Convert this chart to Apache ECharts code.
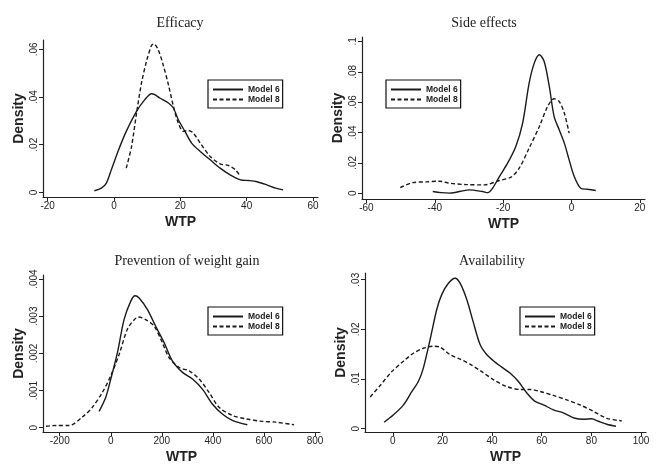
<!DOCTYPE html>
<html>
<head>
<meta charset="utf-8">
<script src="https://cdn.jsdelivr.net/npm/echarts@6/dist/echarts.min.js"></script>
<style>
  html, body { margin: 0; padding: 0; background: #fff; }
  #main { width: 657px; height: 465px; }
</style>
</head>
<body>
<div id="main"></div>
<script>
// kernel density of WTP, four attributes, Model 6 (solid) vs Model 8 (dashed)

const titles = ['Efficacy', 'Side effects', 'Prevention of weight gain', 'Availability'];
const seriesNames = ['Model 6', 'Model 8'];

// [WTP, density]
const efficacyM6 = [[-5.9,0.0007],[-3.8,0.0018],[-2.3,0.0039],[-0.8,0.0095],[1.2,0.0172],[3.7,0.0256],[6.8,0.034],[9.3,0.0389],[11.3,0.0414],[12.3,0.041],[13.8,0.0396],[16.4,0.0375],[17.9,0.0354],[19.4,0.0305],[21.4,0.0256],[23.4,0.0207],[26,0.0172],[29,0.0137],[32,0.0102],[35,0.0074],[38.1,0.0053],[40.6,0.005],[43.1,0.0045],[46.2,0.0031],[48.7,0.0018],[51,0.0011]];
const efficacyM8 = [[3.7,0.0102],[5.3,0.0193],[6.8,0.0333],[8.3,0.0459],[9.8,0.055],[11.3,0.0616],[12,0.0623],[13.3,0.0599],[14.8,0.0536],[16.4,0.0452],[17.9,0.0361],[19.4,0.0291],[20.9,0.0256],[22.4,0.026],[23.9,0.0249],[26,0.0207],[29,0.0151],[32,0.012],[34.5,0.0113],[36.6,0.0095],[38.1,0.0067]];

const sideM6 = [[-40.6,0.0011],[-38.2,0.0004],[-35.7,0.0001],[-29.9,0.0022],[-26,0.0011],[-24.5,0.0004],[-23.1,0.0033],[-21.1,0.011],[-18.7,0.0198],[-16.3,0.0308],[-14.3,0.0462],[-12.4,0.0725],[-10.9,0.0857],[-9.4,0.0912],[-8,0.0868],[-6.5,0.0703],[-5.1,0.0506],[-3.6,0.0418],[-2.1,0.033],[-0.7,0.022],[0.8,0.011],[2.7,0.0033],[4.7,0.0026],[7.1,0.0018]];
const sideM8 = [[-50.1,0.0037],[-46.4,0.007],[-42.5,0.0075],[-38.6,0.0079],[-35.7,0.0066],[-30.9,0.0057],[-25.5,0.0055],[-21.1,0.0084],[-17.7,0.0106],[-15.3,0.0165],[-12.4,0.0297],[-9.4,0.044],[-7,0.0571],[-5.1,0.0622],[-3.6,0.0604],[-2.1,0.0527],[-0.7,0.0396]];

const weightM6 = [[-45.7,0.00044],[-19.6,0.00082],[0,0.00131],[26,0.00202],[52,0.00291],[78,0.0034],[95,0.00355],[111,0.00349],[143.6,0.00318],[176,0.00273],[209,0.00229],[241,0.0018],[281,0.00149],[320,0.00131],[359,0.00104],[398,0.00064],[437,0.00037],[476,0.0002],[535,0.00008]];
const weightM8 = [[-254,0.00004],[-215,0.00006],[-163,0.00006],[-111,0.00029],[-72,0.00055],[-33,0.00095],[0,0.0014],[33,0.00198],[65,0.00265],[91,0.0029],[108,0.00298],[137,0.00291],[170,0.00273],[202,0.00229],[228,0.00189],[268,0.00162],[307,0.00153],[346,0.00131],[385,0.00095],[424,0.00055],[476,0.00033],[528,0.00024],[594,0.00017],[646,0.00015],[718,0.00008]];

const availM6 = [[-3.5,0.0013],[0.3,0.0028],[4.3,0.0048],[7.7,0.0075],[10.3,0.0095],[12.3,0.0122],[15,0.0179],[17.7,0.024],[19.7,0.027],[22.4,0.0293],[25.1,0.0303],[27.1,0.0293],[29.8,0.026],[32.5,0.0213],[35.2,0.0169],[37.9,0.0149],[41.2,0.0134],[43.9,0.0124],[47.2,0.0112],[50.6,0.0095],[54,0.0072],[57.3,0.0055],[60.7,0.0048],[64.7,0.0038],[68.7,0.0032],[73.4,0.0021],[76.8,0.0019],[80.1,0.002],[82.8,0.0015],[86.2,0.0009],[89.9,0.0005]];
const availM8 = [[-9.1,0.0064],[-5.1,0.0087],[-0.4,0.0115],[4.3,0.0136],[8.3,0.0152],[12.3,0.0162],[16.4,0.0166],[19.1,0.0164],[23.1,0.0149],[27.1,0.014],[31.1,0.013],[35.8,0.0115],[40.5,0.0099],[45.9,0.0085],[51.3,0.0079],[55.3,0.0079],[59.3,0.0075],[64.7,0.0067],[70.1,0.0058],[75.4,0.0048],[80.8,0.0035],[86.2,0.0021],[92.2,0.0016]];

// tick labels
const xTicks = [[-20,0,20,40,60],[-60,-40,-20,0,20],[-200,0,200,400,600,800],[0,20,40,60,80,100]];
const yTicks = [[0,0.02,0.04,0.06],[0,0.02,0.04,0.06,0.08,0.1],[0,0.001,0.002,0.003,0.004],[0,0.01,0.02,0.03]];

const panelData = [[efficacyM6, efficacyM8],[sideM6, sideM8],[weightM6, weightM8],[availM6, availM8]];

// layout
const grids = [
  {left: 43, top: 40, width: 275, height: 157},
  {left: 362, top: 37, width: 283, height: 162},
  {left: 43, top: 275, width: 277, height: 158},
  {left: 365, top: 273, width: 281, height: 159}
];
const xRange = [[-21.4, 61.5],[-61.3, 21.5],[-265.5, 819.6],[-11.2, 102]];
const yRange = [[-0.0019, 0.0639],[-0.0038, 0.1029],[-0.000115, 0.00411],[-0.00066, 0.03135]];
const titlePos = [[175, 11],[479, 11],[182, 249],[487, 249]];
const legendPos = [[208, 80],[386, 80],[208, 307],[520, 307]];

const ink = '#222';
const chart = echarts.init(document.getElementById('main'));

function yFmt(v) {
  if (v === 0) return '0';
  return String(v).replace(/^0/, '');
}

const option = {
  backgroundColor: '#fff',
  animation: false,
  title: titles.map((t, i) => ({
    text: t,
    left: titlePos[i][0],
    top: titlePos[i][1],
    textAlign: 'center',
    textStyle: {fontFamily: 'Liberation Serif', fontWeight: 'normal', fontSize: 14, color: ink}
  })),
  legend: legendPos.map((p, i) => ({
    left: p[0],
    top: p[1],
    orient: 'vertical',
    data: seriesNames,
    itemWidth: 30,
    itemHeight: 10,
    itemGap: 1,
    padding: [5, 3, 4, 4],
    borderColor: '#111',
    borderWidth: 1.2,
    borderRadius: 0,
    selectedMode: false,
    itemStyle: {opacity: 0},
    textStyle: {fontFamily: 'Liberation Sans', fontSize: 8.5, fontWeight: 'bold', color: ink, padding: [0, 0, 0, 0]}
  })),
  grid: grids,
  xAxis: grids.map((g, i) => ({
    type: 'value',
    gridIndex: i,
    min: xRange[i][0],
    max: xRange[i][1],
    name: 'WTP',
    nameLocation: 'middle',
    nameGap: 18,
    nameTextStyle: {fontFamily: 'Liberation Sans', fontWeight: 'bold', fontSize: 14, color: ink},
    splitLine: {show: false},
    axisLine: {onZero: false, lineStyle: {color: ink, width: 1.2}},
    axisTick: {length: 4, customValues: xTicks[i], lineStyle: {color: ink}},
    axisLabel: {customValues: xTicks[i], margin: 4, fontFamily: 'Liberation Sans', fontSize: 10, color: ink}
  })),
  yAxis: grids.map((g, i) => ({
    type: 'value',
    gridIndex: i,
    min: yRange[i][0],
    max: yRange[i][1],
    name: 'Density',
    nameLocation: 'middle',
    nameRotate: 90,
    nameGap: 17,
    nameTextStyle: {fontFamily: 'Liberation Sans', fontWeight: 'bold', fontSize: 14, color: ink},
    splitLine: {show: false},
    axisLine: {show: true, onZero: false, lineStyle: {color: ink, width: 1.2}},
    axisTick: {show: true, length: 4, customValues: yTicks[i], lineStyle: {color: ink}},
    axisLabel: {customValues: yTicks[i], rotate: 90, margin: 4, formatter: yFmt, fontFamily: 'Liberation Sans', fontSize: 10, color: ink}
  })),
  series: []
};

panelData.forEach((pair, i) => {
  pair.forEach((pts, k) => {
    option.series.push({
      name: seriesNames[k],
      type: 'line',
      xAxisIndex: i,
      yAxisIndex: i,
      data: pts,
      smooth: 0.3,
      symbol: 'none',
      itemStyle: {color: '#1a1a1a'},
      lineStyle: {color: '#1a1a1a', width: 1.4, type: k === 0 ? 'solid' : [4, 2.5]}
    });
  });
});

chart.setOption(option);
</script>
</body>
</html>
